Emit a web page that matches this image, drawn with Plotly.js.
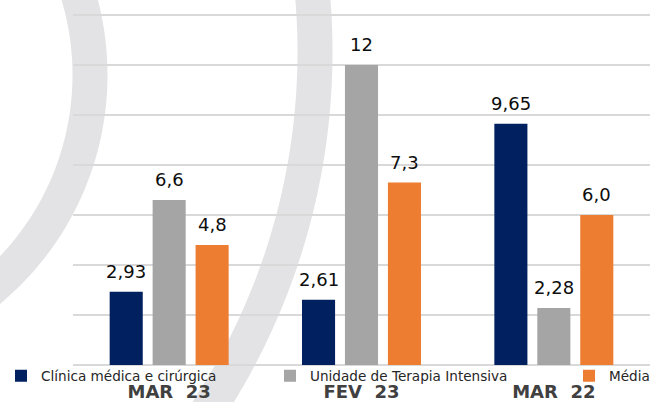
<!DOCTYPE html>
<html>
<head>
<meta charset="utf-8">
<script src="https://cdn.plot.ly/plotly-3.0.1.min.js"></script>
<style>html,body{margin:0;padding:0;background:#fff;}#chart{width:656px;height:402px;}</style>
</head>
<body>
<div id="chart"></div>
<script>
// ---- data ----
const categories = ['MAR 23', 'FEV 23', 'MAR 22'];
const tickLabels = ['MAR\u00a0\u00a023', 'FEV\u00a0\u00a023', 'MAR\u00a0\u00a022'];
const seriesNames = ['Clínica médica e cirúrgica', 'Unidade de Terapia Intensiva', 'Média'];
const clinicaValues = [2.93, 2.61, 9.65];
const utiValues = [6.6, 12, 2.28];
const mediaValues = [4.8, 7.3, 6.0];
const clinicaLabels = ['2,93', '2,61', '9,65'];
const utiLabels = ['6,6', '12', '2,28'];
const mediaLabels = ['4,8', '7,3', '6,0'];
const gridValues = [0, 2, 4, 6, 8, 10, 12, 14];

// ---- style / layout ----
const colors = ['#002060', '#a5a5a5', '#ed7d31'];
const W = 656, H = 402;
const M = {l: 73, r: 6, t: 0, b: 37};
const plotW = W - M.l - M.r, plotH = H - M.t - M.b;
const yMax = 14.6;
const bargap = 0.33, bargroupgap = 0.23;
const FONT = 'DejaVu Sans';

const px2x = px => (px - M.l) / plotW;
const py2y = py => (H - M.b - py) / plotH;

function arcPath(cx, cy, r, a0, a1) {
  let d = '';
  const n = 80;
  for (let i = 0; i <= n; i++) {
    const a = (a0 + (a1 - a0) * i / n) * Math.PI / 180;
    const px = cx + r * Math.cos(a), py = cy + r * Math.sin(a);
    d += (i ? 'L' : 'M') + px2x(px).toFixed(5) + ',' + py2y(py).toFixed(5);
  }
  return d;
}

const values = [clinicaValues, utiValues, mediaValues];
const labels = [clinicaLabels, utiLabels, mediaLabels];
const legendIds = ['legend', 'legend2', 'legend3'];

const traces = values.map((v, i) => ({
  type: 'bar',
  x: categories,
  y: v,
  name: seriesNames[i],
  marker: {color: colors[i]},
  legend: legendIds[i],
  hoverinfo: 'none'
}));

// data labels above bars (slot offset derived from bar geometry)
const catW = plotW / categories.length;
const slot = catW * (1 - bargap) / values.length;
const annotations = [];
values.forEach((v, i) => {
  v.forEach((val, j) => {
    annotations.push({
      x: categories[j], y: val, xref: 'x', yref: 'y',
      text: labels[i][j], showarrow: false,
      xanchor: 'center', yanchor: 'bottom',
      xshift: (i - 1) * slot, yshift: 8,
      font: {family: FONT, size: 18, color: '#0d0d0d'}
    });
  });
});

const legendY = py2y(376);
const legendPx = [1, 270, 569];
const legendFont = {family: FONT, size: 13.6, color: '#262626'};
function mkLegend(i) {
  return {
    x: px2x(legendPx[i]), xanchor: 'left', y: legendY, yanchor: 'middle',
    orientation: 'h', font: legendFont, bgcolor: 'rgba(0,0,0,0)',
    itemwidth: 30, borderwidth: 0
  };
}

const layout = {
  width: W, height: H,
  margin: M,
  paper_bgcolor: '#ffffff',
  plot_bgcolor: 'rgba(0,0,0,0)',
  barmode: 'group',
  bargap: bargap,
  bargroupgap: bargroupgap,
  showlegend: true,
  legend: mkLegend(0),
  legend2: mkLegend(1),
  legend3: mkLegend(2),
  xaxis: {
    type: 'category',
    tickvals: categories,
    ticktext: tickLabels,
    tickfont: {family: FONT, size: 18, color: '#404040', weight: 'bold'},
    ticklabelstandoff: 14,
    automargin: false,
    showgrid: false, zeroline: false, showline: false, ticks: ''
  },
  yaxis: {
    range: [0, yMax], tickvals: gridValues,
    showticklabels: false, ticks: '', automargin: false,
    showgrid: true, gridcolor: '#d9d9d9', gridwidth: 1.3,
    zeroline: true, zerolinecolor: '#d9d9d9', zerolinewidth: 1.3,
    showline: false
  },
  shapes: [
    {type: 'path', xref: 'paper', yref: 'paper', layer: 'below',
     path: arcPath(-190, 75, 280, -25, 60),
     line: {color: '#e3e3e5', width: 35}},
    {type: 'path', xref: 'paper', yref: 'paper', layer: 'below',
     path: arcPath(-338, 52, 653, -9, 38),
     line: {color: '#e3e3e5', width: 35}}
  ],
  annotations: annotations,
  font: {family: FONT}
};

Plotly.newPlot('chart', traces, layout, {displayModeBar: false, staticPlot: true});
</script>
</body>
</html>
